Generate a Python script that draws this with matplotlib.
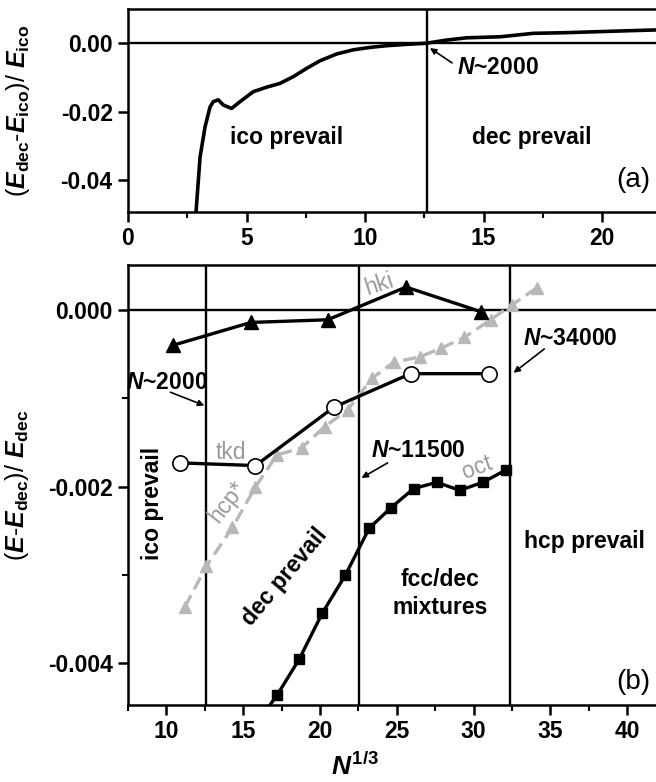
import matplotlib
matplotlib.use("Agg")
import matplotlib.pyplot as plt
from matplotlib.ticker import FormatStrFormatter, MultipleLocator

plt.rcParams["font.family"] = ["Liberation Sans", "DejaVu Sans"]
plt.rcParams["font.weight"] = "bold"
plt.rcParams["mathtext.fontset"] = "custom"
plt.rcParams["mathtext.rm"] = "Liberation Sans:bold"
plt.rcParams["mathtext.it"] = "Liberation Sans:bold:italic"
plt.rcParams["mathtext.bf"] = "Liberation Sans:bold"
plt.rcParams["axes.unicode_minus"] = False

# ---- panel (a): (E_dec - E_ico)/E_ico vs N^(1/3)
a_x = [2.87, 3.04, 3.25, 3.46, 3.60, 3.81, 4.02, 4.37, 4.73, 5.29, 5.85, 6.41,
       6.98, 7.54, 8.10, 8.81, 9.51, 10.21, 10.92, 11.76, 12.57, 13.4, 14.29,
       15.7, 17.1, 18.5, 19.9, 21.3, 22.3, 23.5]
a_y = [-0.0493, -0.0333, -0.0245, -0.0187, -0.0171, -0.0166, -0.0181, -0.0191,
       -0.0171, -0.0142, -0.0129, -0.0118, -0.0098, -0.0074, -0.0052, -0.0032,
       -0.0020, -0.0013, -0.0008, -0.0004, -0.0001, 0.0008, 0.0015, 0.0018,
       0.0028, 0.0030, 0.0033, 0.0036, 0.0038, 0.0040]

# ---- panel (b): (E - E_dec)/E_dec vs N^(1/3)
hki_x = [10.4, 15.5, 20.5, 25.6, 30.5]
hki_y = [-0.00040, -0.00014, -0.00011, 0.00026, -0.00002]
tkd_x = [10.9, 15.8, 20.9, 25.9, 31.0]
tkd_y = [-0.00173, -0.00176, -0.00110, -0.00072, -0.00072]
hcp_x = [11.2, 12.6, 14.3, 15.8, 17.2, 18.8, 20.3, 21.8, 23.4, 24.8, 26.5,
         27.9, 29.4, 31.1, 32.5, 34.1]
hcp_y = [-0.00336, -0.00290, -0.00246, -0.00200, -0.00164, -0.00156, -0.00132,
         -0.00113, -0.00077, -0.00059, -0.00053, -0.00043, -0.00031, -0.00011,
         0.00006, 0.00025]
oct_x = [15.5, 17.2, 18.65, 20.15, 21.65, 23.2, 24.6, 26.1, 27.6, 29.1, 30.6, 32.1]
oct_y = [-0.00477, -0.00436, -0.00395, -0.00343, -0.00300, -0.00247, -0.00224,
         -0.00202, -0.00195, -0.00204, -0.00195, -0.00181]
bounds_b = [12.6, 22.57, 32.4]

W, H = 656, 782
fig = plt.figure(figsize=(W / 100, H / 100), dpi=100)
ax_a = fig.add_axes([128 / W, (H - 212) / H, 557 / W, 203 / H])
ax_b = fig.add_axes([128 / W, (H - 705) / H, 553 / W, 440 / H])

GRAY = "#b8b8b8"
TGRAY = "#999999"
FS = 16.5

def style(ax):
    for s in ax.spines.values():
        s.set_linewidth(1.8)
    ax.tick_params(which="major", direction="out", length=7, width=1.8, labelsize=FS, pad=4)
    ax.tick_params(which="minor", direction="out", length=4, width=1.5)

def arrow(ax, tail, head):
    ax.annotate("", xy=head, xytext=tail,
                arrowprops=dict(arrowstyle="-|>", color="black", lw=1.2,
                                mutation_scale=9, shrinkA=0, shrinkB=0))

# panel (a)
ax_a.plot(a_x, a_y, color="black", lw=2.6)
ax_a.axhline(0, color="black", lw=1.7)
ax_a.axvline(12.6, color="black", lw=1.7)
ax_a.set_xlim(0, 23.5)
ax_a.set_ylim(-0.0493, 0.0099)
ax_a.set_xticks([0, 5, 10, 15, 20])
ax_a.xaxis.set_minor_locator(MultipleLocator(2.5))
ax_a.set_yticks([0, -0.02, -0.04])
ax_a.yaxis.set_major_formatter(FormatStrFormatter("%.2f"))
style(ax_a)
ax_a.set_ylabel(r"($E_{\rm dec}$-$E_{\rm ico}$)/ $E_{\rm ico}$", fontsize=18)
ax_a.yaxis.set_label_coords(-0.172, 0.5)
ax_a.text(6.67, -0.0277, "ico prevail", ha="center", va="center", fontsize=FS)
ax_a.text(17.05, -0.0277, "dec prevail", ha="center", va="center", fontsize=FS)
ax_a.text(21.3, -0.0400, "(a)", ha="center", va="center", fontsize=20, fontweight="normal")
arrow(ax_a, (13.67, -0.0058), (12.74, -0.0015))
ax_a.text(13.9, -0.0073, "$N$~2000", ha="left", va="center", fontsize=FS)

# panel (b)
ax_b.plot(hcp_x, hcp_y, color=GRAY, lw=2.4, dashes=(4, 2), marker="^", ms=9,
          mfc=GRAY, mec=GRAY, zorder=2)
ax_b.plot(tkd_x, tkd_y, color="black", lw=2.4, marker="o", ms=11, mfc="white",
          mec="black", mew=1.2, zorder=3)
ax_b.plot(hki_x, hki_y, color="black", lw=2.4, marker="^", ms=10, mfc="black",
          mec="black", zorder=3)
ax_b.plot(oct_x, oct_y, color="black", lw=2.4, marker="s", ms=7, mfc="black",
          mec="black", zorder=3)
ax_b.axhline(0, color="black", lw=1.7, zorder=1)
for xb in bounds_b:
    ax_b.axvline(xb, color="black", lw=1.7, zorder=1)
ax_b.set_xlim(7.5, 43.5)
ax_b.set_ylim(-0.00447, 0.00051)
ax_b.set_xticks([10, 15, 20, 25, 30, 35, 40])
ax_b.xaxis.set_minor_locator(MultipleLocator(2.5))
ax_b.set_yticks([0, -0.002, -0.004])
ax_b.set_yticks([-0.001, -0.003], minor=True)
ax_b.yaxis.set_major_formatter(FormatStrFormatter("%.3f"))
style(ax_b)
ax_b.set_ylabel(r"($E$-$E_{\rm dec}$)/ $E_{\rm dec}$", fontsize=18)
ax_b.yaxis.set_label_coords(-0.175, 0.5)

ax_b.text(14.2, -0.00161, "tkd", color=TGRAY, fontsize=FS, fontweight="normal",
          ha="center", va="center")
ax_b.text(13.97, -0.00217, "hcp*", color=TGRAY, fontsize=FS, fontweight="normal",
          ha="center", va="center", rotation=52)
ax_b.text(23.86, 0.00029, "hki", color=TGRAY, fontsize=FS, fontweight="normal",
          ha="center", va="center", rotation=18)
ax_b.text(30.2, -0.00178, "oct", color=TGRAY, fontsize=FS, fontweight="normal",
          ha="center", va="center", rotation=20)
ax_b.text(9.1, -0.00219, "ico prevail", fontsize=FS, ha="center", va="center", rotation=90)
ax_b.text(17.7, -0.00302, "dec prevail", fontsize=FS, ha="center", va="center", rotation=50)
ax_b.text(27.8, -0.00321, "fcc/dec\nmixtures", fontsize=FS, ha="center", va="center",
          linespacing=1.3)
ax_b.text(37.2, -0.00262, "hcp prevail", fontsize=FS, ha="center", va="center")
ax_b.text(40.4, -0.00421, "(b)", fontsize=20, fontweight="normal", ha="center", va="center")

ax_b.text(10.0, -0.00082, "$N$~2000", fontsize=FS, ha="center", va="center")
arrow(ax_b, (10.26, -0.00093), (12.47, -0.00108))
ax_b.text(33.2, -0.00032, "$N$~34000", fontsize=FS, ha="left", va="center")
arrow(ax_b, (34.6, -0.00044), (32.6, -0.00071))
ax_b.text(23.3, -0.00159, "$N$~11500", fontsize=FS, ha="left", va="center")
arrow(ax_b, (24.4, -0.00173), (22.7, -0.00190))

fig.text(355 / W, 2 / H, r"$N^{1/3}$", fontsize=19, ha="center", va="bottom")

fig.savefig("out.png", dpi=100, facecolor="white")
